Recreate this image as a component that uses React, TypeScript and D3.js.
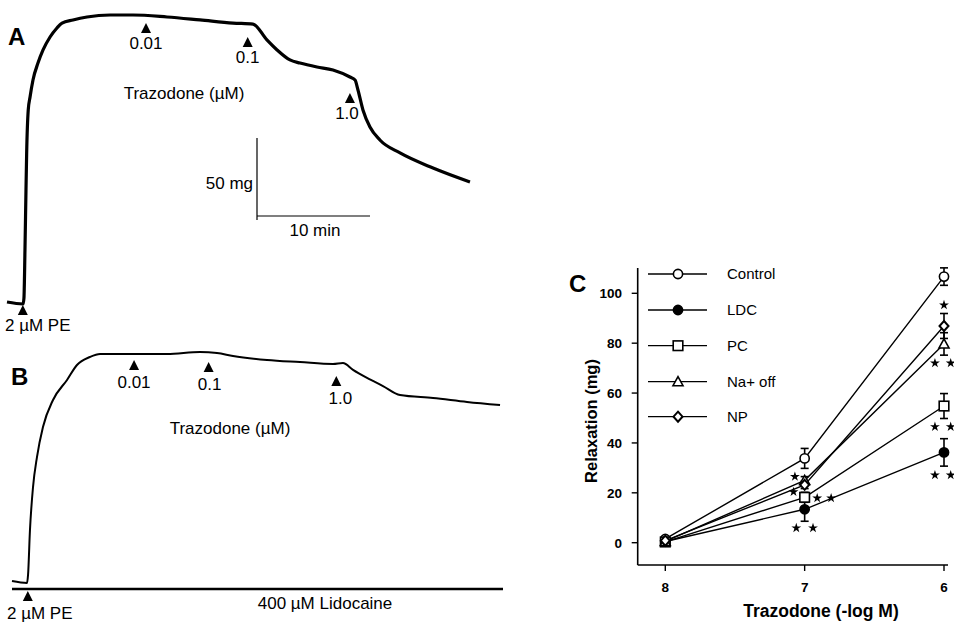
import React from "react";
import * as d3 from "d3";

// ---------- Panel A trace (time in min, tension in mg) ----------
const traceATime = [0, 1.42, 1.5, 1.59, 1.68, 1.74, 1.88, 2.04, 2.3, 2.74, 3.19, 3.81, 4.42, 4.87, 5.84, 7.08, 9.12, 11.15, 14.16, 17.08, 20.0, 21.77, 23.0, 23.9, 25.04, 25.93, 27.43, 28.85, 30.35, 30.8, 31.06, 31.5, 32.12, 33.0, 34.78, 37.7, 40.97];
const traceATension = [0.6, -0.6, 3.0, 32.3, 68.9, 91.5, 117.7, 125.6, 136.0, 146.3, 154.3, 162.2, 167.7, 170.7, 172.6, 174.4, 175.6, 175.6, 174.4, 172.6, 170.7, 170.1, 160.4, 154.3, 148.2, 146.3, 143.9, 142.1, 137.8, 136.0, 129.9, 117.7, 107.3, 99.4, 91.5, 82.3, 73.8];
const doseTimesA = [12.3, 21.3, 30.35];
const doseLabels = ["0.01", "0.1", "1.0"];

// ---------- Panel B trace ----------
const traceBTime = [0, 1.33, 1.42, 1.59, 1.86, 2.21, 2.74, 3.63, 4.87, 5.75, 6.9, 7.79, 10.71, 13.72, 16.64, 18.14, 19.56, 22.57, 25.49, 28.41, 29.29, 30.18, 31.42, 32.83, 34.34, 37.26, 40.27, 43.19];
const traceBTension = [0.6, -0.6, 4.3, 31.7, 57.9, 76.2, 94.5, 111.0, 123.2, 132.3, 137.2, 139.0, 139.0, 139.0, 140.2, 139.6, 137.8, 135.4, 134.1, 132.9, 133.5, 129.3, 124.4, 119.5, 114.0, 112.2, 109.8, 107.9];
const doseTimesB = [10.8, 17.4, 28.7];

// ---------- Panel C ----------
const concentrations = [8, 7, 6];
const seriesNames = ["Control", "LDC", "PC", "Na+ off", "NP"];
const controlValues = [1.5, 33.8, 106.7];
const ldcValues = [0.5, 13.4, 36.2];
const pcValues = [0.3, 18.2, 54.8];
const naOffValues = [0.5, 25.0, 79.7];
const npValues = [0.8, 23.2, 86.9];
const controlErr = [0, 4, 3.5];
const ldcErr = [0, 4.8, 5.5];
const pcErr = [0, 2, 5];
const naOffErr = [0, 1.5, 4.5];
const npErr = [0, 1.5, 5];
const yTicks = [0, 20, 40, 60, 80, 100];
// significance stars [x (-log M), y (mg)]
const starX = [6.0, 6.065, 5.952, 6.065, 5.952, 6.065, 5.952, 7.07, 7.08, 6.91, 6.81, 7.06, 6.94];
const starY = [95.3, 72.0, 72.0, 46.5, 46.5, 27.1, 27.1, 26.5, 20.4, 17.9, 17.9, 5.9, 5.9];

const FONT = "'Liberation Sans', Arial, Helvetica, sans-serif";

const triPath = (cx: number, cy: number, w = 10, h = 9) =>
  `M${cx - w / 2},${cy + h / 2}L${cx + w / 2},${cy + h / 2}L${cx},${cy - h / 2}Z`;

function Marker({ kind, x, y }: { kind: string; x: number; y: number }) {
  const sw = 1.6;
  if (kind === "Control")
    return <circle cx={x} cy={y} r={4.6} fill="#fff" stroke="#000" strokeWidth={sw} />;
  if (kind === "LDC") return <circle cx={x} cy={y} r={4.6} fill="#000" stroke="#000" strokeWidth={sw} />;
  if (kind === "PC")
    return <rect x={x - 4.8} y={y - 4.8} width={9.6} height={9.6} fill="#fff" stroke="#000" strokeWidth={sw} />;
  if (kind === "Na+ off")
    return <path d={triPath(x, y - 0.5, 10, 9)} fill="#fff" stroke="#000" strokeWidth={sw} />;
  return (
    <path
      d={`M${x},${y - 5}L${x + 4.5},${y}L${x},${y + 5}L${x - 4.5},${y}Z`}
      fill="#fff"
      stroke="#000"
      strokeWidth={2}
    />
  );
}

export default function App() {
  // Panel A scales
  const xA = d3.scaleLinear().domain([0, 41]).range([7, 7 + 41 * 11.3]);
  const yA = d3.scaleLinear().domain([0, 180]).range([303, 303 - 180 * 1.64]);
  const lineA = d3
    .line<number>()
    .x((_, i) => xA(traceATime[i]))
    .y((d) => yA(d))
    .curve(d3.curveMonotoneX);

  // Panel B scales
  const xB = d3.scaleLinear().domain([0, 43.2]).range([12, 12 + 43.2 * 11.3]);
  const yB = d3.scaleLinear().domain([0, 140]).range([582, 582 - 140 * 1.64]);
  const lineB = d3
    .line<number>()
    .x((_, i) => xB(traceBTime[i]))
    .y((d) => yB(d))
    .curve(d3.curveMonotoneX);

  // Panel C scales
  const xC = d3.scaleLinear().domain([8, 6]).range([665.3, 944]);
  const yC = d3.scaleLinear().domain([0, 100]).range([542.7, 293.3]);
  const axisLeftX = 637.7;
  const axisBottomY = 565;
  const allValues = [controlValues, ldcValues, pcValues, naOffValues, npValues];
  const allErr = [controlErr, ldcErr, pcErr, naOffErr, npErr];
  const lineC = d3
    .line<number>()
    .x((_, i) => xC(concentrations[i]))
    .y((d) => yC(d));
  const legendY = [274, 310, 345.7, 381.7, 416.7];
  const star = d3.symbol(d3.symbolStar, 30)();

  const barScaleTop = 138;
  const barX = 257;
  const barBottom = barScaleTop + (yA(0) - yA(50));

  return (
    <svg
      width={954}
      height={623}
      style={{ position: "absolute", left: 0, top: 0, background: "#fff" }}
      fontFamily={FONT}
    >
      <rect width={954} height={623} fill="#fff" />

      {/* ---------------- Panel A ---------------- */}
      <text x={8} y={45} fontSize={24} fontWeight="bold">A</text>
      <path d={lineA(traceATension) || ""} fill="none" stroke="#000" strokeWidth={3.2} strokeLinejoin="round" />
      {doseTimesA.map((t, i) => {
        const ty = [28, 42, 98][i];
        return (
          <g key={"da" + i}>
            <path d={triPath(xA(t), ty, 10, 10)} fill="#000" />
            <text x={xA(t) + (i === 2 ? -3 : 0)} y={ty + 21} fontSize={17} textAnchor="middle">
              {doseLabels[i]}
            </text>
          </g>
        );
      })}
      <text x={184} y={99} fontSize={17} textAnchor="middle">Trazodone (µM)</text>
      <path d={triPath(xA(1.4), 310, 10, 10)} fill="#000" />
      <text x={5} y={331} fontSize={17}>2 µM PE</text>
      {/* scale bars */}
      <line x1={barX} x2={barX} y1={barScaleTop} y2={barBottom} stroke="#000" strokeWidth={1.2} />
      <line x1={barX} x2={barX + (xA(10) - xA(0))} y1={216} y2={216} stroke="#000" strokeWidth={1.2} />
      <text x={253} y={189} fontSize={17} textAnchor="end">50 mg</text>
      <text x={315} y={236} fontSize={17} textAnchor="middle">10 min</text>

      {/* ---------------- Panel B ---------------- */}
      <text x={11} y={385} fontSize={24} fontWeight="bold">B</text>
      <path d={lineB(traceBTension) || ""} fill="none" stroke="#000" strokeWidth={2} strokeLinejoin="round" />
      {doseTimesB.map((t, i) => {
        const ty = [365, 367, 381][i];
        return (
          <g key={"db" + i}>
            <path d={triPath(xB(t), ty, 10, 10)} fill="#000" />
            <text x={xB(t) + [0, 1, 4][i]} y={ty + 23} fontSize={17} textAnchor="middle">
              {doseLabels[i]}
            </text>
          </g>
        );
      })}
      <text x={230} y={434} fontSize={17} textAnchor="middle">Trazodone (µM)</text>
      <line x1={12} x2={503} y1={589} y2={589} stroke="#000" strokeWidth={2.4} />
      <path d={triPath(xB(1.4), 596, 10, 10)} fill="#000" />
      <text x={7} y={619} fontSize={17}>2 µM PE</text>
      <text x={325} y={609} fontSize={17} textAnchor="middle">400 µM Lidocaine</text>

      {/* ---------------- Panel C ---------------- */}
      <text x={569} y={292} fontSize={24} fontWeight="bold">C</text>
      {/* axes */}
      <line x1={axisLeftX} x2={axisLeftX} y1={268} y2={axisBottomY} stroke="#000" strokeWidth={1.6} />
      <line x1={axisLeftX} x2={948} y1={axisBottomY} y2={axisBottomY} stroke="#000" strokeWidth={1.6} />
      {yTicks.map((t) => (
        <g key={"yt" + t}>
          <line x1={axisLeftX - 6} x2={axisLeftX} y1={yC(t)} y2={yC(t)} stroke="#000" strokeWidth={1.4} />
          <text x={622} y={yC(t) + 5} fontSize={13.5} fontWeight="bold" textAnchor="end">{t}</text>
        </g>
      ))}
      {concentrations.map((c) => (
        <g key={"xt" + c}>
          <line x1={xC(c)} x2={xC(c)} y1={axisBottomY} y2={axisBottomY + 6} stroke="#000" strokeWidth={1.4} />
          <text x={xC(c)} y={592} fontSize={13.5} fontWeight="bold" textAnchor="middle">{c}</text>
        </g>
      ))}
      <text x={821} y={617} fontSize={17.5} fontWeight="bold" textAnchor="middle">Trazodone (-log M)</text>
      <text
        transform={`translate(597,421) rotate(-90)`}
        fontSize={16.5}
        fontWeight="bold"
        textAnchor="middle"
      >
        Relaxation (mg)
      </text>

      {/* series lines */}
      {allValues.map((vals, s) => (
        <path key={"l" + s} d={lineC(vals) || ""} fill="none" stroke="#000" strokeWidth={1.4} />
      ))}
      {/* error bars */}
      {allValues.map((vals, s) =>
        vals.map((v, i) =>
          allErr[s][i] > 0 ? (
            <g key={`e${s}-${i}`}>
              <line x1={xC(concentrations[i])} x2={xC(concentrations[i])} y1={yC(v - allErr[s][i])} y2={yC(v + allErr[s][i])} stroke="#000" strokeWidth={1.6} />
              <line x1={xC(concentrations[i]) - 4} x2={xC(concentrations[i]) + 4} y1={yC(v + allErr[s][i])} y2={yC(v + allErr[s][i])} stroke="#000" strokeWidth={1.6} />
              <line x1={xC(concentrations[i]) - 4} x2={xC(concentrations[i]) + 4} y1={yC(v - allErr[s][i])} y2={yC(v - allErr[s][i])} stroke="#000" strokeWidth={1.6} />
            </g>
          ) : null
        )
      )}
      {/* markers */}
      {allValues.map((vals, s) =>
        vals.map((v, i) => (
          <Marker key={`m${s}-${i}`} kind={seriesNames[s]} x={xC(concentrations[i])} y={yC(v)} />
        ))
      )}
      {/* stars */}
      {starX.map((sx, i) => (
        <path key={"s" + i} d={star || ""} transform={`translate(${xC(sx)},${yC(starY[i])})`} fill="#000" />
      ))}
      {/* legend */}
      {seriesNames.map((n, i) => (
        <g key={"lg" + i}>
          <line x1={648} x2={707} y1={legendY[i]} y2={legendY[i]} stroke="#000" strokeWidth={1.3} />
          <Marker kind={n} x={678} y={legendY[i]} />
          <text x={727} y={legendY[i] + 5} fontSize={15}>{n}</text>
        </g>
      ))}
    </svg>
  );
}
